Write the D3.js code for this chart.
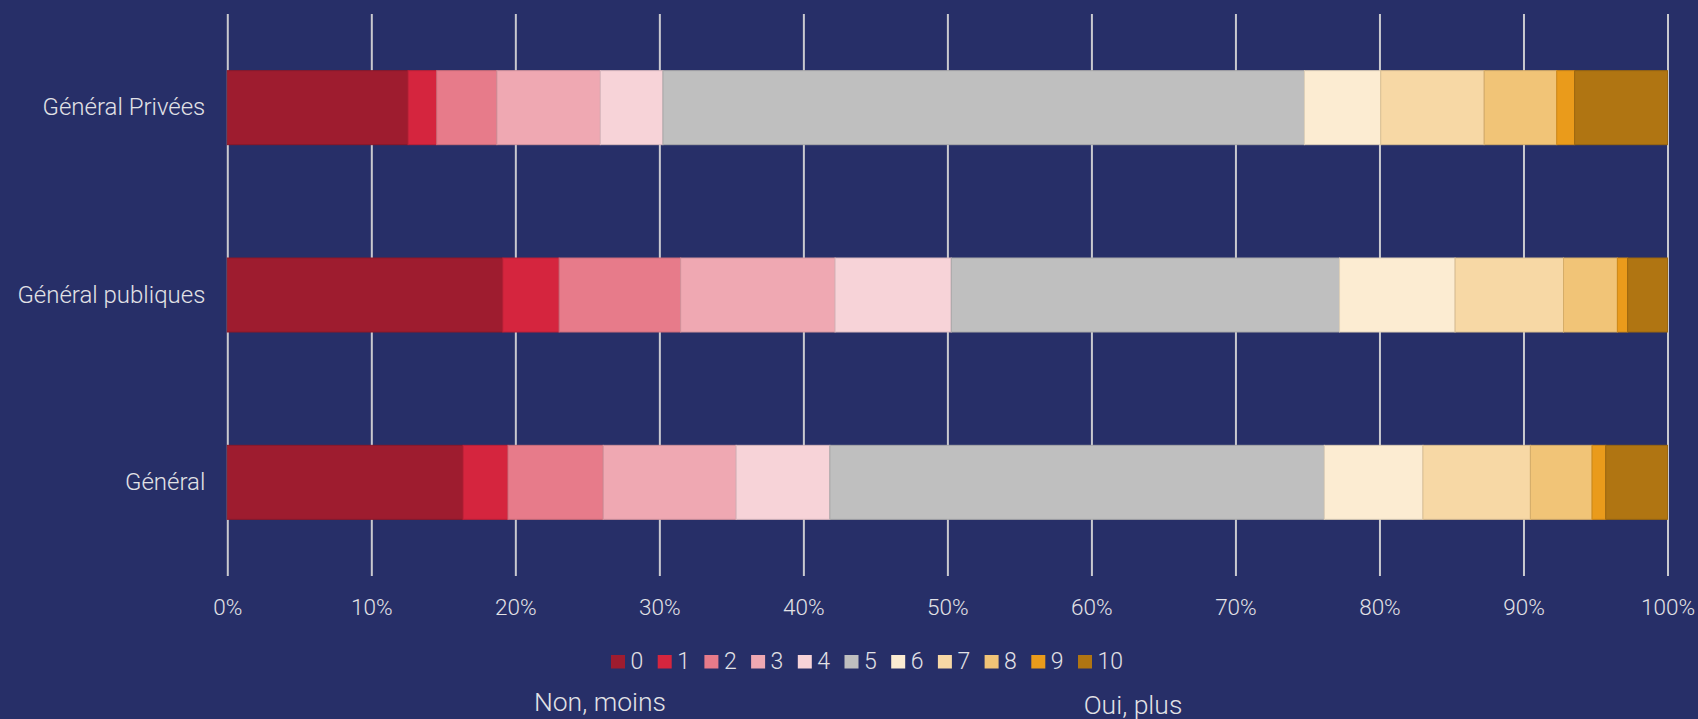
<!DOCTYPE html>
<html>
<head>
<meta charset="utf-8">
<script src="https://cdn.jsdelivr.net/npm/d3@7"></script>
<style>
  html, body { margin: 0; padding: 0; background: #272f68; }
  svg { display: block; }
  text { font-family: Roboto, "Open Sans", sans-serif; font-weight: 300; fill: #e2e2e6; }
</style>
</head>
<body>
<svg id="chart" width="1698" height="719"></svg>
<script>
// ---- Data ----
const categories = ["Général Privées", "Général publiques", "Général"];
const keys = ["0", "1", "2", "3", "4", "5", "6", "7", "8", "9", "10"];
const colors = ["#9e1c2f", "#d5253e", "#e77b8a", "#efa8b2", "#f7d3d8", "#bfbfbf",
                "#fcecd2", "#f7d8a5", "#f1c477", "#ea9b1b", "#b07512"];
// percentages per score (0..10) for each category
const valuesPrivees   = [12.55, 1.99, 4.18, 7.18, 4.35, 44.54, 5.30, 7.18, 5.04, 1.24, 6.45];
const valuesPubliques = [19.13, 3.91, 8.44, 10.72, 8.07, 26.96, 8.02, 7.53, 3.74, 0.71, 2.77];
const valuesGeneral   = [16.37, 3.12, 6.61, 9.23, 6.51, 34.33, 6.85, 7.46, 4.28, 0.95, 4.29];
const tickValues = [0, 10, 20, 30, 40, 50, 60, 70, 80, 90, 100];
const tickLabels = ["0%", "10%", "20%", "30%", "40%", "50%", "60%", "70%", "80%", "90%", "100%"];
const leftNote = "Non, moins";
const rightNote = "Oui, plus";

const seriesValues = [valuesPrivees, valuesPubliques, valuesGeneral];
const rows = categories.map((c, i) => {
  const r = { category: c };
  keys.forEach((k, j) => r[k] = seriesValues[i][j]);
  return r;
});

const svg = d3.select("#chart");
const x = d3.scaleLinear().domain([0, 100]).range([227.3, 1667.5]);
const y = d3.scaleBand().domain(categories).range([14, 576])
  .paddingInner(0.605).paddingOuter(0.3025);
const color = d3.scaleOrdinal().domain(keys).range(colors);

// gridlines + x axis labels
const xAxis = d3.axisBottom(x).tickValues(tickValues)
  .tickFormat((d, i) => tickLabels[i]).tickSize(-(576 - 14)).tickPadding(23).tickSizeOuter(0);
const gx = svg.append("g").attr("transform", "translate(0,576)").call(xAxis);
gx.select(".domain").remove();
gx.selectAll(".tick line").attr("stroke", "#c9c9cf").attr("stroke-width", 2);
gx.selectAll(".tick text").attr("font-size", 22.5).attr("font-family", "Roboto, sans-serif")
  .attr("font-weight", 300).attr("fill", "#e2e2e6");

// y labels
const yAxis = d3.axisLeft(y).tickSize(0).tickPadding(22);
const gy = svg.append("g").attr("transform", "translate(227.3,0)").call(yAxis);
gy.select(".domain").remove();
gy.selectAll(".tick text").attr("font-size", 24).attr("font-family", "Roboto, sans-serif")
  .attr("font-weight", 300).attr("fill", "#e2e2e6");

// stacked bars
const stacked = d3.stack().keys(keys)(rows);
svg.append("g").selectAll("g").data(stacked).join("g")
  .attr("fill", d => color(d.key))
  .attr("stroke", d => d3.color(color(d.key)).darker(0.35))
  .attr("stroke-width", 1)
  .selectAll("rect").data(d => d).join("rect")
  .attr("x", d => x(d[0]))
  .attr("y", d => y(d.data.category))
  .attr("width", d => x(d[1]) - x(d[0]))
  .attr("height", y.bandwidth());

// legend
const legendX0 = 611, legendStep = 46.7;
const lg = svg.append("g").selectAll("g").data(keys).join("g")
  .attr("transform", (d, i) => `translate(${legendX0 + i * legendStep},655)`);
lg.append("rect").attr("width", 14).attr("height", 13.5).attr("fill", d => color(d));
lg.append("text").attr("x", 19.5).attr("y", 13.5).attr("font-size", 23).text(d => d);

// bottom notes
svg.append("text").attr("x", 600).attr("y", 711).attr("text-anchor", "middle")
  .attr("font-size", 26.5).text(leftNote);
svg.append("text").attr("x", 1133).attr("y", 713.5).attr("text-anchor", "middle")
  .attr("font-size", 26.5).text(rightNote);
</script>
</body>
</html>
